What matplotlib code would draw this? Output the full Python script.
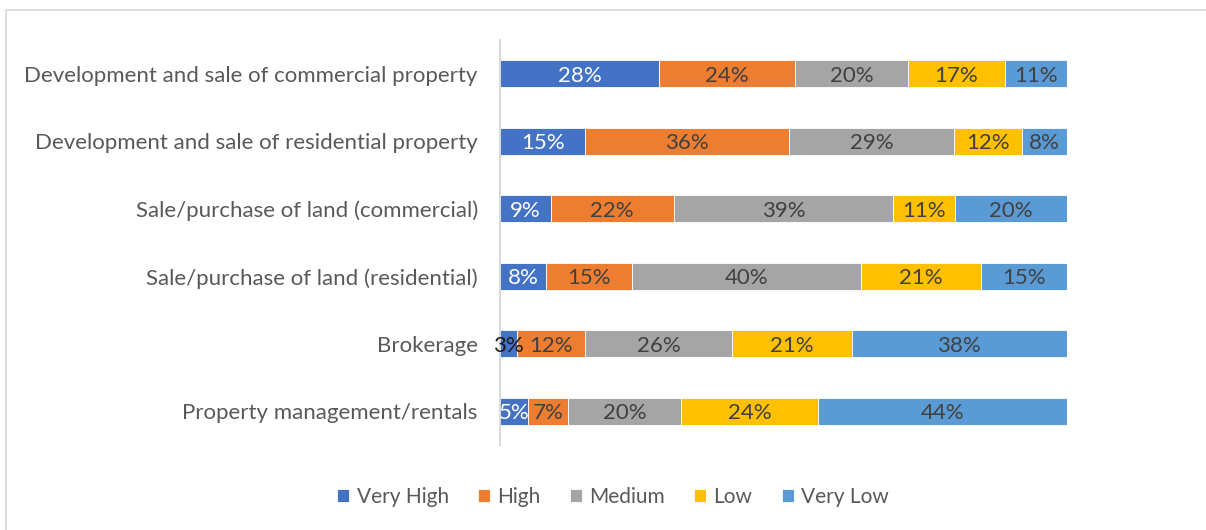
import matplotlib.pyplot as plt
import matplotlib.patches as mpatches
import numpy as np

plt.rcParams['font.family'] = ['Lato', 'DejaVu Sans']

activities = [
    "Development and sale of commercial property",
    "Development and sale of residential property",
    "Sale/purchase of land (commercial)",
    "Sale/purchase of land (residential)",
    "Brokerage",
    "Property management/rentals",
]
levels = ["Very High", "High", "Medium", "Low", "Very Low"]
very_high = [28, 15, 9, 8, 3, 5]
high = [24, 36, 22, 15, 12, 7]
medium = [20, 29, 39, 40, 26, 20]
low = [17, 12, 11, 21, 21, 24]
very_low = [11, 8, 20, 15, 38, 44]

colors = ["#4472C4", "#ED7D31", "#A5A5A5", "#FFC000", "#5B9BD5"]
label_colors = ["white", "#404040", "#404040", "#404040", "#404040"]

vals = np.array([very_high, high, medium, low, very_low], dtype=float)
shares = vals / vals.sum(axis=0) * 100  # 100% stacked

fig = plt.figure(figsize=(12.06, 5.30), dpi=100)
# outer chart frame
fig.patches.append(mpatches.Rectangle((6 / 1206, -0.1), 1.2, 1 - 10 / 530 + 0.1,
                                      transform=fig.transFigure, fill=False,
                                      edgecolor="#D9D9D9", linewidth=1.2))

ax = fig.add_axes([500 / 1206, 0.16, 567 / 1206, 0.765])
y = np.arange(len(activities))
left = np.zeros(len(activities))
for i, lvl in enumerate(levels):
    ax.barh(y, shares[i], left=left, height=0.4, color=colors[i], label=lvl,
            edgecolor="white", linewidth=0.6)
    for j in range(len(activities)):
        c = label_colors[i]
        if i == 0 and vals[i, j] < 5:
            c = "#1a1a1a"
        ax.text(left[j] + shares[i, j] / 2, y[j] + 0.03, f"{int(vals[i, j])}%",
                ha="center", va="center", fontsize=16, color=c)
    left += shares[i]

ax.set_xlim(0, 100)
ax.set_ylim(len(activities) - 0.5, -0.5)
ax.set_yticks(y)
ax.set_yticklabels(activities, fontsize=16, color="#595959")
ax.tick_params(axis="y", length=0, pad=16)
ax.set_xticks([])
for s in ["top", "right", "bottom"]:
    ax.spines[s].set_visible(False)
ax.spines["left"].set_color("#D9D9D9")
ax.spines["left"].set_linewidth(1.5)

leg = fig.legend(loc="center", bbox_to_anchor=(613 / 1206, 1 - 497 / 530), ncol=5,
                 frameon=False, fontsize=15, handlelength=0.58, handleheight=0.58,
                 handletextpad=0.35, columnspacing=1.4)
for t in leg.get_texts():
    t.set_color("#595959")

fig.savefig("out.png", dpi=100)
